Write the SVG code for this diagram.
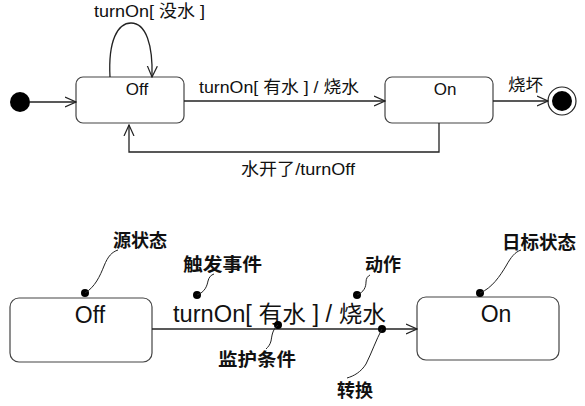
<svg xmlns="http://www.w3.org/2000/svg" width="585" height="406" viewBox="0 0 585 406">
<style>
.box{fill:#fff;stroke:#444;stroke-width:1.2}
.ln{fill:none;stroke:#222;stroke-width:1.3}
.lead{fill:none;stroke:#222;stroke-width:1}
.t{font-family:"Liberation Sans","Noto Sans CJK SC",sans-serif;fill:#111}
.ann{font-family:"Noto Sans CJK SC",sans-serif;font-weight:bold;font-size:18px;fill:#111}
</style>
<defs>
<marker id="open" viewBox="0 0 12 12" refX="11" refY="6" markerWidth="12" markerHeight="12" markerUnits="userSpaceOnUse" orient="auto">
<path d="M0,1 L11,6 L0,11" fill="none" stroke="#222" stroke-width="1.2"/>
</marker>
</defs>
<rect width="585" height="406" fill="#fff"/>

<g id="initial"><circle cx="20" cy="102" r="10" fill="#000"/></g>
<g id="off-top">
<rect class="box" x="76" y="77" width="108" height="46" rx="7"/>
<text class="t" x="137" y="95" font-size="17" text-anchor="middle">Off</text>
</g>
<g id="on-top">
<rect class="box" x="385" y="77" width="108" height="46" rx="7"/>
<text class="t" x="445" y="95" font-size="17" text-anchor="middle">On</text>
</g>
<g id="final">
<circle cx="562" cy="101" r="14" fill="#fff" stroke="#222" stroke-width="1.2"/>
<circle cx="562" cy="101" r="10" fill="#000"/>
</g>

<g id="connectors-top">
<line class="ln" x1="30" y1="102" x2="76" y2="102" marker-end="url(#open)"/>
<path class="ln" d="M110,77 C108,40 118,23 131,23 C146,23 153,45 152,77" marker-end="url(#open)"/>
<line class="ln" x1="184" y1="101" x2="385" y2="101" marker-end="url(#open)"/>
<line class="ln" x1="493" y1="101" x2="548" y2="101" marker-end="url(#open)"/>
<path class="ln" d="M439,123 L439,152 L129,152 L129,125" marker-end="url(#open)"/>
<text class="t" x="94" y="17" font-size="17" textLength="111" lengthAdjust="spacingAndGlyphs">turnOn[ 没水 ]</text>
<text class="t" x="199" y="93" font-size="17" textLength="160" lengthAdjust="spacingAndGlyphs">turnOn[ 有水 ] / 烧水</text>
<text class="t" x="508" y="91" font-size="17" textLength="35" lengthAdjust="spacingAndGlyphs">烧坏</text>
<text class="t" x="241" y="175" font-size="17" textLength="114" lengthAdjust="spacingAndGlyphs">水开了/turnOff</text>
</g>

<g id="off-bottom">
<rect class="box" x="10" y="298" width="142" height="64" rx="9"/>
<text class="t" x="90" y="323" font-size="23" text-anchor="middle">Off</text>
</g>
<g id="on-bottom">
<rect class="box" x="417" y="297" width="142" height="63" rx="9"/>
<text class="t" x="496" y="322" font-size="23" text-anchor="middle">On</text>
</g>

<g id="connectors-bottom">
<line class="ln" x1="152" y1="329" x2="417" y2="329" marker-end="url(#open)"/>
<text class="t" x="173" y="322" font-size="23" textLength="213" lengthAdjust="spacingAndGlyphs">turnOn[ 有水 ] / 烧水</text>
</g>

<g id="annotations">
<circle cx="85" cy="293" r="4" fill="#000"/>
<path class="lead" d="M85,293 C95,287 100,276 104,266 C108,256 112,252 118,250"/>
<text class="ann" x="113" y="247">源状态</text>

<circle cx="197" cy="295" r="4" fill="#000"/>
<path class="lead" d="M197,295 C205,292 207,286 208,281 C209,277 211,275 214,274"/>
<text class="ann" x="183" y="271" textLength="79" lengthAdjust="spacingAndGlyphs">触发事件</text>

<circle cx="357" cy="295" r="4" fill="#000"/>
<path class="lead" d="M357,295 C364,292 366,287 366,282 C366,278 368,276 370,275"/>
<text class="ann" x="365" y="271">动作</text>

<circle cx="480" cy="293" r="4" fill="#000"/>
<path class="lead" d="M480,293 C492,288 500,276 506,266 C511,257 515,252 521,250"/>
<text class="ann" x="502" y="249" textLength="74" lengthAdjust="spacingAndGlyphs">日标状态</text>

<circle cx="278" cy="325" r="4" fill="#000"/>
<path class="lead" d="M278,325 C272,330 272,336 271,341 C270,345 268,347 266,349"/>
<text class="ann" x="218" y="366" textLength="78" lengthAdjust="spacingAndGlyphs">监护条件</text>

<circle cx="382" cy="329" r="4" fill="#000"/>
<path class="lead" d="M382,329 C376,340 372,352 366,364 C361,372 354,376 347,378"/>
<text class="ann" x="337" y="397" font-size="20">转换</text>
</g>
</svg>
